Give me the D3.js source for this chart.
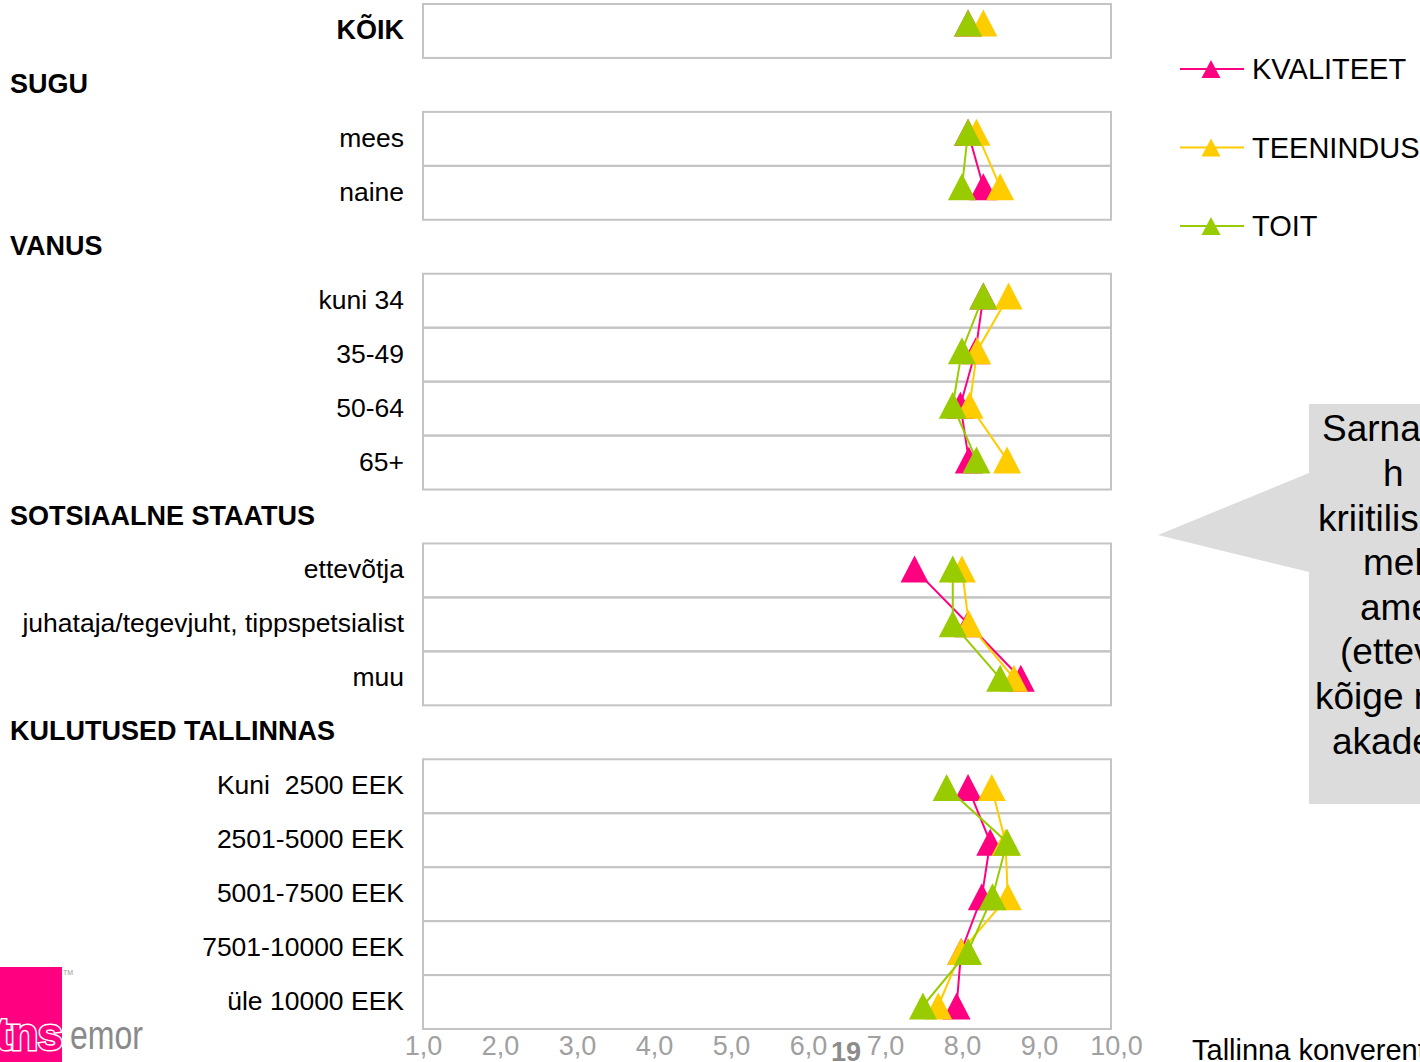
<!DOCTYPE html>
<html>
<head>
<meta charset="utf-8">
<script src="https://cdn.jsdelivr.net/npm/d3@7/dist/d3.min.js"></script>
<style>
  body { margin: 0; background: #fff; overflow: hidden; }
  text { font-family: "Liberation Sans", Arial, sans-serif; }
</style>
</head>
<body>
<div id="chart-area"></div>
<script>

// rows, top to bottom. group headings carry no values (null)
var categories = ["KÕIK", "SUGU", "mees", "naine", "VANUS", "kuni 34", "35-49", "50-64", "65+",
  "SOTSIAALNE STAATUS", "ettevõtja", "juhataja/tegevjuht, tippspetsialist", "muu",
  "KULUTUSED TALLINNAS", "Kuni  2500 EEK", "2501-5000 EEK", "5001-7500 EEK", "7501-10000 EEK", "üle 10000 EEK"];
var headers = ["SUGU", "VANUS", "SOTSIAALNE STAATUS", "KULUTUSED TALLINNAS"];

var kvaliteet = [8.13, null, 8.13, 8.33, null, 8.33, 8.23, 8.03, 8.14, null, 7.43, 8.13, 8.82, null, 8.13, 8.42, 8.31, 8.04, 7.98];
var teenindus = [8.33, null, 8.24, 8.55, null, 8.66, 8.25, 8.15, 8.64, null, 8.05, 8.14, 8.73, null, 8.44, 8.62, 8.65, 8.04, 7.74];
var toit      = [8.13, null, 8.13, 8.05, null, 8.33, 8.05, 7.93, 8.24, null, 7.93, 7.93, 8.55, null, 7.85, 8.64, 8.45, 8.13, 7.54];

var seriesNames = ["KVALITEET", "TEENINDUS", "TOIT"];
var xTicks = [1, 2, 3, 4, 5, 6, 7, 8, 9, 10];

var noteLines = ["Sarnaselt eelmisele", "h", "kriitilisemad olnud", "mehed ning",
  "ametikohalt kõrgemad", "(ettevõtjad), ning", "kõige rahulolevamad", "akadeemilised"];
var footerText = "Tallinna konverentsiturismi uuring";
var pageNumber = "19";

/*
 * Dotplot - rows of triangles, one line per series
 */
Dotplot = function(_parentElement){
  this.parentElement = _parentElement;
  this.data = [kvaliteet, teenindus, toit].map(function(vals, i){
    return { name: seriesNames[i], values: vals.map(function(v, j){ return { row: j, v: v }; }) };
  });
  this.initVis();
}

function triangle(w, h) {
  return "M0," + (-h / 2) + "L" + (w / 2) + "," + (h / 2) + "L" + (-w / 2) + "," + (h / 2) + "Z";
}

Dotplot.prototype.initVis = function(){
  var vis = this;
  vis.width = 1420;
  vis.height = 1062;

  vis.svg = d3.select("#" + vis.parentElement).append("svg")
    .attr("width", vis.width)
    .attr("height", vis.height);

  // scales
  vis.x = d3.scaleLinear().domain([1, 10]).range([423, 1111]);
  vis.yRow = d3.scaleBand().domain(d3.range(categories.length)).range([4, 1029]);
  vis.yPt = d3.scaleLinear().domain([0, categories.length - 1]).range([23, 1006]);
  vis.color = d3.scaleOrdinal().domain(seriesNames).range(["#ff0080", "#ffcc00", "#99cc00"]);

  vis.updateVis();
}

Dotplot.prototype.updateVis = function(){
  var vis = this;

  // row boxes (only for rows that hold data)
  vis.svg.append("g").selectAll("rect")
    .data(d3.range(categories.length).filter(function(i){ return headers.indexOf(categories[i]) < 0; }))
    .enter().append("rect")
    .attr("x", vis.x(1))
    .attr("y", function(i){ return vis.yRow(i); })
    .attr("width", vis.x(10) - vis.x(1))
    .attr("height", vis.yRow.bandwidth())
    .attr("fill", "none")
    .attr("stroke", "#c4c4c4")
    .attr("stroke-width", 2);

  // labels
  vis.svg.append("g").selectAll("text")
    .data(categories)
    .enter().append("text")
    .attr("x", function(d){ return headers.indexOf(d) >= 0 ? 10 : 404; })
    .attr("y", function(d, i){ return vis.yRow(i) + vis.yRow.bandwidth() / 2; })
    .attr("dy", "0.3em")
    .attr("text-anchor", function(d){ return headers.indexOf(d) >= 0 ? "start" : "end"; })
    .attr("font-size", function(d, i){ return (i == 0 || headers.indexOf(d) >= 0) ? "27px" : "26.5px"; })
    .attr("font-weight", function(d, i){ return (i == 0 || headers.indexOf(d) >= 0) ? "bold" : "normal"; })
    .attr("fill", "#000")
    .style("white-space", "pre")
    .text(function(d){ return d; });

  // x axis, no line / ticks, just grey labels
  var axis = d3.axisBottom(vis.x)
    .tickValues(xTicks)
    .tickSize(0)
    .tickPadding(7)
    .tickFormat(function(d){ return d3.format(".1f")(d).replace(".", ","); });
  var gx = vis.svg.append("g")
    .attr("transform", "translate(0," + vis.yRow.range()[1] + ")")
    .call(axis);
  gx.select(".domain").remove();
  gx.selectAll("text")
    .attr("font-family", "Liberation Sans, Arial, sans-serif")
    .attr("font-size", "27px")
    .attr("dx", function(d){ return (d - 1) * 0.55; })
    .attr("fill", "#a0a0a0");

  // series
  var line = d3.line()
    .defined(function(d){ return d.v != null; })
    .x(function(d){ return vis.x(d.v); })
    .y(function(d){ return vis.yPt(d.row); });

  var series = vis.svg.append("g").selectAll("g")
    .data(vis.data)
    .enter().append("g");

  series.append("path")
    .attr("d", function(d){ return line(d.values); })
    .attr("fill", "none")
    .attr("stroke", function(d){ return vis.color(d.name); })
    .attr("stroke-width", 2);

  series.selectAll(".marker")
    .data(function(d){ return d.values.filter(function(p){ return p.v != null; })
      .map(function(p){ return { name: d.name, row: p.row, v: p.v }; }); })
    .enter().append("path")
    .attr("class", "marker")
    .attr("d", triangle(28, 27))
    .attr("transform", function(d){ return "translate(" + vis.x(d.v) + "," + vis.yPt(d.row) + ")"; })
    .attr("fill", function(d){ return vis.color(d.name); });

  // legend
  var legend = vis.svg.append("g").selectAll("g")
    .data(seriesNames)
    .enter().append("g")
    .attr("transform", function(d, i){ return "translate(1180," + (69 + i * 78.5) + ")"; });
  legend.append("line")
    .attr("x1", 0).attr("x2", 64)
    .attr("stroke", function(d){ return vis.color(d); })
    .attr("stroke-width", 2);
  legend.append("path")
    .attr("d", triangle(19, 18))
    .attr("transform", "translate(31,0)")
    .attr("fill", function(d){ return vis.color(d); });
  legend.append("text")
    .attr("x", 72)
    .attr("dy", "0.36em")
    .attr("font-size", "29px")
    .text(function(d){ return d; });

  // callout box with pointer
  vis.svg.append("path")
    .attr("d", "M1309,404L1480,404L1480,804L1309,804L1309,572L1158,535L1309,473Z")
    .attr("fill", "#dcdcdc");
  var noteIndent = [1322, 1383, 1318, 1363, 1360, 1340, 1315, 1332];
  vis.svg.append("g").selectAll("text")
    .data(noteLines)
    .enter().append("text")
    .attr("x", function(d, i){ return noteIndent[i]; })
    .attr("y", function(d, i){ return 428 + i * 44.6; })
    .attr("dy", "0.36em")
    .attr("font-size", "37px")
    .text(function(d){ return d; });

  // footer
  vis.svg.append("text")
    .attr("x", 846).attr("y", 1061)
    .attr("text-anchor", "middle")
    .attr("font-size", "27px").attr("font-weight", "bold")
    .attr("fill", "#8c8c8c")
    .text(pageNumber);
  vis.svg.append("text")
    .attr("x", 1192).attr("y", 1060)
    .attr("font-size", "29px")
    .text(footerText);

  // tns emor logo
  var logo = vis.svg.append("g");
  logo.append("rect")
    .attr("x", 0).attr("y", 967).attr("width", 62).attr("height", 95)
    .attr("fill", "#ff0080");
  logo.append("text")
    .attr("x", 62).attr("y", 1050)
    .attr("text-anchor", "end")
    .attr("font-size", "46px").attr("font-weight", "bold")
    .attr("fill", "#ff0080")
    .attr("stroke", "#fff").attr("stroke-width", 3)
    .attr("paint-order", "stroke")
    .attr("letter-spacing", "-1px")
    .text("tns");
  logo.append("text")
    .attr("x", 63).attr("y", 975)
    .attr("font-size", "7px").attr("fill", "#999")
    .text("TM");
  logo.append("text")
    .attr("x", 70).attr("y", 1049)
    .attr("font-size", "40px")
    .attr("textLength", 73)
    .attr("lengthAdjust", "spacingAndGlyphs")
    .attr("fill", "#8a8a8a")
    .text("emor");
}

var chart = new Dotplot("chart-area");
</script>
</body>
</html>
